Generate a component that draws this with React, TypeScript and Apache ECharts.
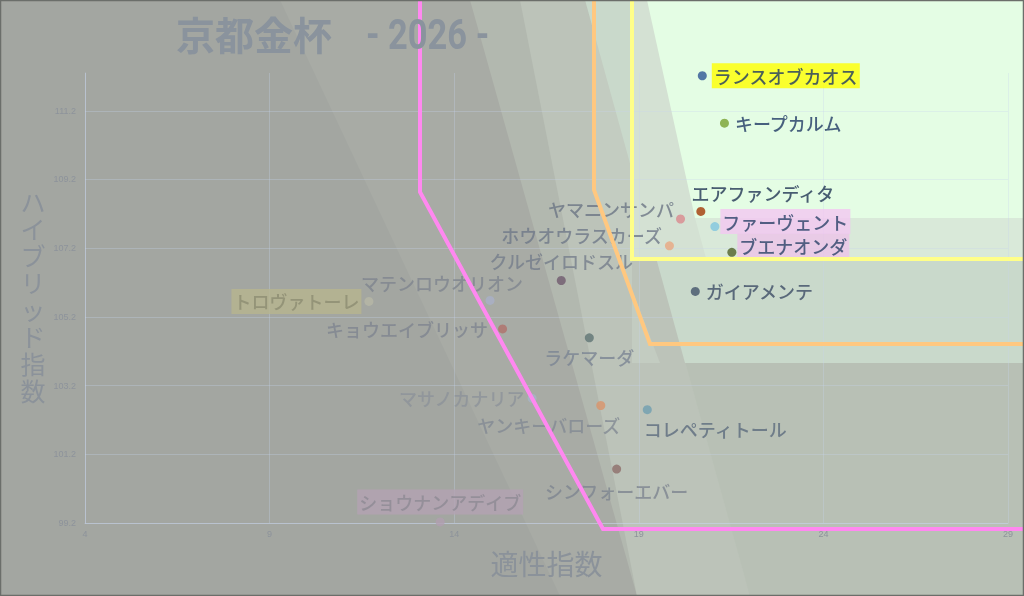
import React, { useEffect, useRef } from "react";
import * as echarts from "echarts";

// ---- data ----
const horses = [
  "ランスオブカオス", "キープカルム", "エアファンディタ", "ファーヴェント", "ブエナオンダ",
  "ヤマニンサンパ", "ホウオウラスカーズ", "クルゼイロドスル", "ガイアメンテ", "マテンロウオリオン",
  "トロヴァトーレ", "キョウエイブリッサ", "ラケマーダ", "マサノカナリア", "ヤンキーバローズ",
  "コレペティトール", "シンフォーエバー", "ショウナンアデイブ",
];
const tekisei = [20.72, 21.32, 20.68, 21.06, 21.52, 20.13, 19.83, 16.9, 20.53, 14.97, 11.69, 15.31, 17.66, 16.11, 17.97, 19.23, 18.4, 13.62];
const hybrid = [112.22, 110.84, 108.27, 107.83, 107.08, 108.05, 107.27, 106.26, 105.94, 105.68, 105.65, 104.85, 104.59, 102.83, 102.62, 102.5, 100.77, 99.23];
const xTickStart = 4;
const xTickEnd = 29;
const xTickStep = 5;
const yTickStart = 99.2;
const yAxisTop = 112.3;
const yTickStep = 2;
const titleMain = "京都金杯";
const titleYear = "- 2026 -";
const yName = "ハイブリッド指数";
const xName = "適性指数";

// ---- styles (kept apart from the values) ----
const dotColors = ["#2e5595", "#78a030", "#a33a06", "#7fc6de", "#4f6228", "#d98a8e", "#e8a882", "#6f5a6e", "#44546a", "#a9b0c8", "#b6b8a6", "#b0706a", "#5f7474", "#a8b4c8", "#d9936a", "#6f9fb0", "#8d6e6a", "#b09fb0"];
const labelColors = ["#1f3864", "#1f3864", "#203454", "#2a4268", "#2a4268", "#6c7585", "#6e7888", "#747d8b", "#3d4c65", "#7e858f", "#8c8c72", "#7e8590", "#7b8594", "#8c929a", "#828994", "#5d6b7e", "#7d8590", "#8d8a94"];
const labelBgs = ["#ffff00", null, null, "#f3c7f1", "#ecc3e8", null, null, null, null, null, "#b7b58e", null, null, null, null, null, null, "#b3a3b3"];
const labelPlace: any[] = [
  { position: "right", distance: 5 },
  { position: "right", distance: 6 },
  { position: "top", distance: 5, offset: [62, 0] },
  { position: "right", distance: 1, offset: [0, -5] },
  { position: "right", distance: 1, offset: [0, -6] },
  { position: "left", distance: 2, offset: [0, -10] },
  { position: "left", distance: 3, offset: [0, -11] },
  { position: "top", distance: 6 },
  { position: "right", distance: 6 },
  { position: "top", distance: 4, offset: [-48, 0] },
  { position: "left", distance: 3 },
  { position: "left", distance: 10 },
  { position: "bottom", distance: 6 },
  { position: "left", distance: 3 },
  { position: "bottom", distance: 6, offset: [-52, 0] },
  { position: "bottom", distance: 6, offset: [68, 0] },
  { position: "bottom", distance: 8 },
  { position: "top", distance: 3 },
];

const W = 1024;
const H = 596;

function App() {
  const ref = useRef<HTMLDivElement>(null);
  useEffect(() => {
    if (!ref.current) return;
    const chart = echarts.init(ref.current, null, { renderer: "svg" });
    const data = horses.map((n, i) => ({
      name: n,
      value: [tekisei[i], hybrid[i]],
      itemStyle: { color: dotColors[i] },
      label: {
        show: true,
        formatter: "{b}",
        fontSize: 18,
        fontWeight: 500,
        fontFamily: "Noto Sans CJK JP",
        color: labelColors[i],
        backgroundColor: labelBgs[i] || "transparent",
        padding: labelBgs[i] ? [4, 2, 3, 2] : 0,
        ...labelPlace[i],
      },
    }));

    const bg: any[] = [
      { type: "rect", shape: { x: 0, y: 0, width: W, height: H }, style: { fill: "#a3a6a1" } },
      { type: "polygon", shape: { points: [[280, 0], [W, 0], [W, H], [560, H]] }, style: { fill: "#a8aba5" } },
      { type: "polygon", shape: { points: [[470, 0], [W, 0], [W, H], [637, H]] }, style: { fill: "#b2b8af" } },
      { type: "polygon", shape: { points: [[560, 0], [W, 0], [W, H], [750, H]] }, style: { fill: "#b8c0b5" } },
      { type: "polygon", shape: { points: [[520, 0], [585, 0], [750, H], [637, H]] }, style: { fill: "#bcc3b9" } },
      { type: "polygon", shape: { points: [[594, 0], [632, 0], [632, 363], [660, 363], [594, 190]] }, style: { fill: "#c3ccc1" } },
      { type: "polygon", shape: { points: [[585, 0], [W, 0], [W, 363], [685, 363]] }, style: { fill: "#c9d9cb" } },
      { type: "polygon", shape: { points: [[632, 0], [W, 0], [W, 258], [632, 258]] }, style: { fill: "#d4e1d3" } },
      { type: "polygon", shape: { points: [[647, 0], [W, 0], [W, 218], [695, 218]] }, style: { fill: "#e4fde4" } },
      { type: "polygon", shape: { points: [[695, 218], [W, 218], [W, 258], [706, 258]] }, style: { fill: "#d9e9d9" } },
    ].map((e) => ({ ...e, z: -100, silent: true }));

    const yChars = Array.from(yName).map((c, i) => ({
      type: "text",
      x: 33,
      y: 203 + i * 27,
      style: {
        text: c,
        fontSize: 25,
        fontFamily: "Roboto, 'Noto Sans CJK JP'",
        fill: "#8b929a",
        align: "center",
        verticalAlign: "middle",
      },
    }));

    const lines: any[] = [
      { type: "polyline", shape: { points: [[420, 0], [420, 192], [603, 529], [W, 529]] }, style: { stroke: "#ff88f0", lineWidth: 4, fill: null } },
      { type: "polyline", shape: { points: [[594, 0], [594, 190], [650, 344], [W, 344]] }, style: { stroke: "#ffc880", lineWidth: 4, fill: null } },
      { type: "polyline", shape: { points: [[632, 0], [632, 259], [W, 259]] }, style: { stroke: "#ffff88", lineWidth: 4, fill: null } },
      { type: "rect", shape: { x: 0.5, y: 0.5, width: W - 1, height: H - 1 }, style: { stroke: "#6b6e6a", lineWidth: 1.5, fill: null } },
      ...yChars,
      {
        type: "text",
        x: 176,
        y: 33,
        style: { text: titleMain, fontSize: 39, fontWeight: "bold", fontFamily: "Noto Sans CJK JP", fill: "#8a939d", align: "left", verticalAlign: "middle" },
      },
      {
        type: "text",
        x: 366,
        y: 34,
        scaleX: 0.82,
        style: { text: titleYear, fontSize: 42, fontWeight: "bold", fontFamily: "Roboto", fill: "#8a939d", align: "left", verticalAlign: "middle" },
      },
    ].map((e) => ({ ...e, z: 100, silent: true }));

    chart.setOption({
      animation: false,
      grid: { left: 85, right: W - 1008, top: 73, bottom: H - 523 },
      xAxis: {
        type: "value",
        min: xTickStart,
        max: xTickEnd,
        interval: xTickStep,
        name: xName,
        nameLocation: "middle",
        nameGap: 26,
        nameTextStyle: { fontSize: 28, color: "#8b929a", fontFamily: "Noto Sans CJK JP" },
        axisLine: { show: true, lineStyle: { color: "rgba(200,210,235,0.45)", width: 1 } },
        axisTick: { show: false },
        axisLabel: { fontSize: 9, color: "#8d939b", margin: 6 },
        splitLine: { show: true, lineStyle: { color: "rgba(200,212,240,0.3)", width: 1 } },
      },
      yAxis: {
        type: "value",
        min: yTickStart,
        max: yAxisTop,
        interval: yTickStep,
        axisLine: { show: true, lineStyle: { color: "rgba(200,210,235,0.45)", width: 1 } },
        axisTick: { show: false },
        axisLabel: { fontSize: 9, color: "#8d939b", margin: 9, showMaxLabel: false },
        splitLine: { show: true, showMaxLine: false, lineStyle: { color: "rgba(200,212,240,0.3)", width: 1 } },
      },
      graphic: { elements: [...bg, ...lines] },
      series: [
        {
          type: "scatter",
          symbolSize: 9,
          data,
          z: 3,
        },
      ],
    });
    return () => chart.dispose();
  }, []);
  return <div ref={ref} style={{ position: "fixed", left: 0, top: 0, width: W, height: H }} />;
}

export default App;
